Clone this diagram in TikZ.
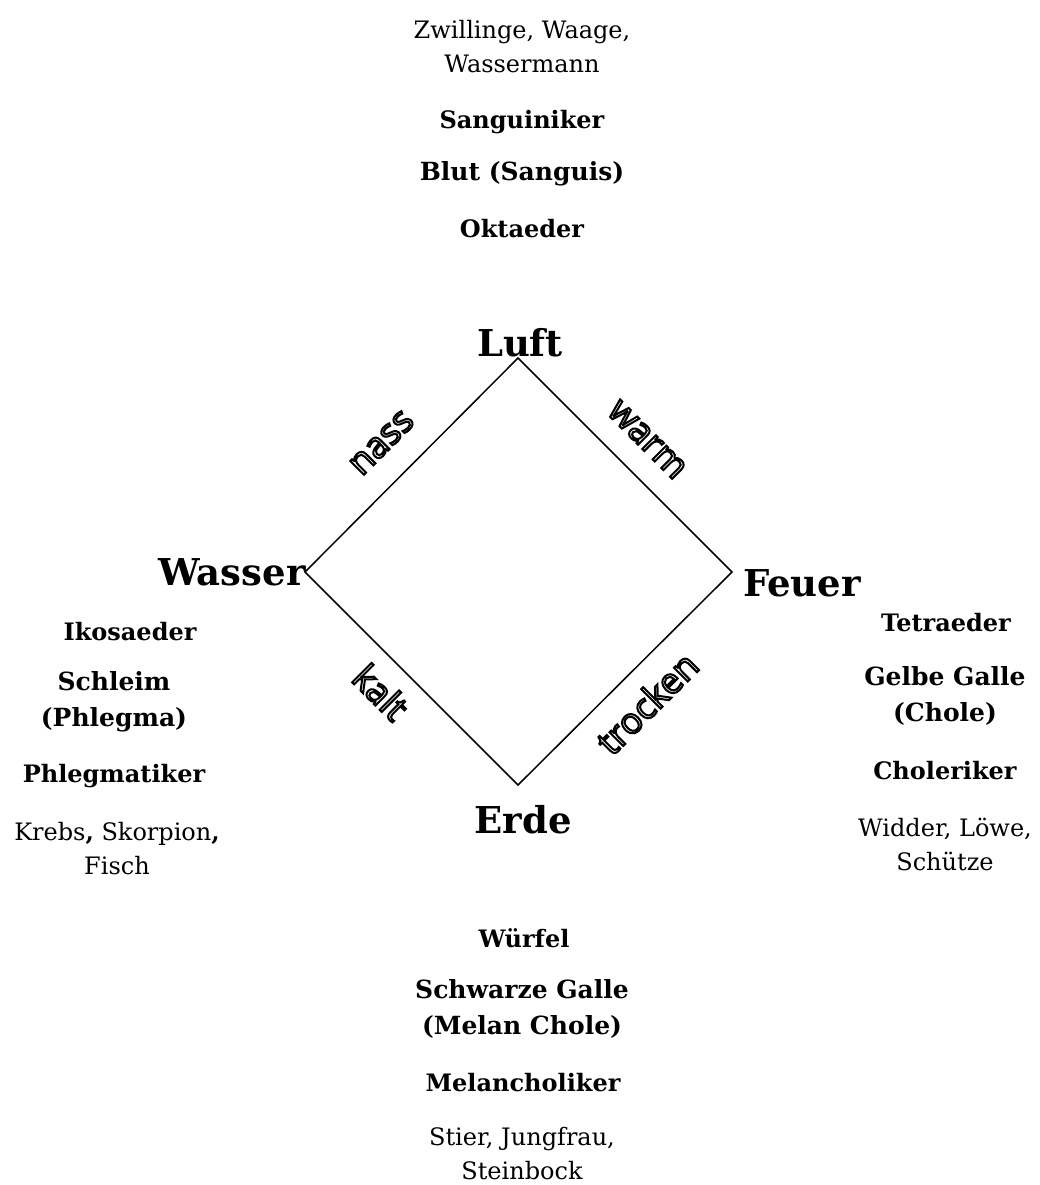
\documentclass[tikz,border=0pt]{standalone}
\usepackage{fontspec}
\setmainfont{DejaVu Serif}
\newfontfamily\lblfont{Open Sans}
\newcommand\outl[1]{\special{pdf:literal 1 Tr 2 w}#1\special{pdf:literal 0 Tr}}
\begin{document}
\begin{tikzpicture}[x=1pt,y=-1pt,
  txt/.style={align=center,inner sep=0pt,font=\fontsize{24}{34}\selectfont},
  bld/.style={align=center,inner sep=0pt,font=\fontsize{24}{34}\selectfont\bfseries},
  bigb/.style={align=center,inner sep=0pt,font=\fontsize{25}{36}\selectfont\bfseries},
  elem/.style={inner sep=0pt,font=\fontsize{37}{40}\selectfont\bfseries},
  lbl/.style={inner sep=0pt,font=\fontsize{36}{40}\selectfont\lblfont}]
\useasboundingbox (0,0) rectangle (1040,1185);
% diamond corners
\coordinate (T) at (518,358);
\coordinate (R) at (732,572);
\coordinate (B) at (518,785);
\coordinate (L) at (305,572);
\draw[line width=1.5pt,line join=miter] (T) -- (R) -- (B) -- (L) -- cycle;
% elements
\node[elem] (luft) at (520,343) {Luft};
\node[elem] (wasser) at (232,572) {Wasser};
\node[elem] (feuer) at (802,583) {Feuer};
\node[elem] (erde) at (523,820) {Erde};
% top
\node[txt] (ztop) at (522,47) {Zwillinge, Waage,\\Wassermann};
\node[bld] (sang) at (522,122) {Sanguiniker};
\node[bigb] (blut) at (522,174) {Blut (Sanguis)};
\node[bld] (okt) at (522,229) {Oktaeder};
% left
\node[bld] (iko) at (130,632) {Ikosaeder};
\node[bigb] (schl) at (114,702) {Schleim\\(Phlegma)};
\node[bld] (phl) at (114,776) {Phlegmatiker};
\node[txt] (krebs) at (117,849) {Krebs\textbf{,} Skorpion\textbf{,}\\Fisch};
% right
\node[bld] (tetra) at (946,623) {Tetraeder};
\node[bigb] (gelb) at (945,696) {Gelbe Galle\\(Chole)};
\node[bld] (chol) at (945,771) {Choleriker};
\node[txt] (widder) at (945,844) {Widder, Löwe,\\Schütze};
% bottom
\node[bld] (wuerf) at (524,938) {Würfel};
\node[bigb] (schw) at (522,1009) {Schwarze Galle\\(Melan Chole)};
\node[bld] (mel) at (523,1083) {Melancholiker};
\node[txt] (stier) at (522,1154) {Stier, Jungfrau,\\Steinbock};
% edge labels
\node[lbl,rotate=45] (nass) at (382,443) {\outl{nass}};
\node[lbl,rotate=-45] (warm) at (647,440) {\outl{warm}};
\node[lbl,rotate=-45] (kalt) at (381,692) {\outl{kalt}};
\node[lbl,rotate=45] (trocken) at (647,703) {\outl{trocken}};
\end{tikzpicture}
\end{document}
